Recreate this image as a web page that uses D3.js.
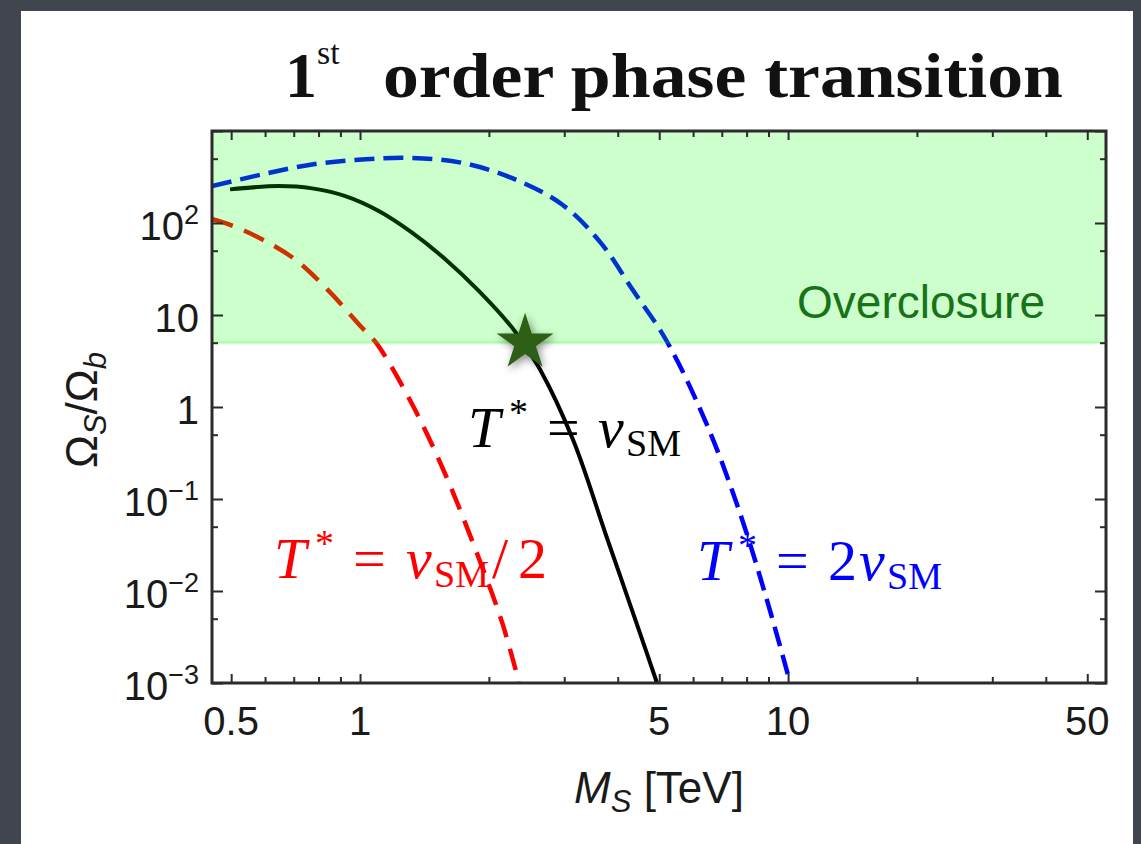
<!DOCTYPE html>
<html>
<head>
<meta charset="utf-8">
<script src="https://cdn.jsdelivr.net/npm/d3@7"></script>
<style>
  html, body { margin: 0; padding: 0; background: #40454f; }
  svg { display: block; }
</style>
</head>
<body>
<svg id="chart" width="1141" height="844"></svg>
<script>
// values: M_S [TeV] vs Omega_S / Omega_b
const massHalf = [0.451, 0.494, 0.59, 0.706, 0.845, 1.01, 1.09, 1.32, 1.58, 1.89, 2.15, 2.35];
const omegaHalf = [110, 96.8, 66.5, 40, 18.3, 7.3, 5.0, 1.1, 0.188, 0.0234, 0.00447, 0.00103];

const massOne = [0.497, 0.646, 0.773, 0.924, 1.106, 1.323, 1.582, 1.894, 2.265, 2.40, 2.63, 3.15, 3.77, 4.51, 4.94];
const omegaOne = [232, 252, 238, 196, 135, 78.5, 40.4, 18.3, 7.31, 5.0, 2.59, 0.432, 0.0384, 0.00346, 0.001];

const massTwo = [0.451, 0.59, 0.772, 1.01, 1.32, 1.73, 2.26, 2.96, 3.64, 4.35, 5.2, 6.45, 7.73, 8.93, 10.1];
const omegaTwo = [252, 337, 433, 490, 510, 451, 309, 160, 62, 18.3, 5.25, 0.656, 0.069, 0.0079, 0.00103];

const starMass = 2.43;
const starOmega = 5;
const overclosureMin = 5;

const xDomain = [0.451, 55.3];
const yDomain = [1e-3, 1e3];
const xMajorTicks = [0.5, 1, 5, 10, 50];
const xMinorTicks = [0.6, 0.7, 0.8, 0.9, 2, 3, 4, 6, 7, 8, 9, 20, 30, 40];
const xTickLabels = ['0.5', '1', '5', '10', '50'];
const yMajorTicks = [1e-3, 1e-2, 1e-1, 1, 10, 100, 1000];
const yMinorTicks = [5e-3, 5e-2, 0.5, 5, 50, 500];
const yLabelValues = [1e-3, 1e-2, 1e-1, 1, 10, 100];
const yLabelBase = ['10', '10', '10', '1', '10', '10'];
const yLabelExp = ['\u22123', '\u22122', '\u22121', '', '', '2'];

const width = 1141, height = 844;
const plot = {left: 212, right: 1106, top: 131, bottom: 683};
const sansFont = "'Liberation Sans', Arial, sans-serif";
const mathFont = "'Liberation Serif', 'DejaVu Serif', serif";

const svg = d3.select('#chart');
const defs = svg.append('defs');
defs.append('clipPath').attr('id', 'plot-clip')
  .append('rect')
    .attr('x', plot.left).attr('y', plot.top)
    .attr('width', plot.right - plot.left)
    .attr('height', plot.bottom - plot.top);
const shadow = defs.append('filter').attr('id', 'star-shadow')
    .attr('x', '-60%').attr('y', '-60%').attr('width', '220%').attr('height', '220%');
shadow.append('feDropShadow')
    .attr('dx', 2).attr('dy', 3)
    .attr('stdDeviation', 4)
    .attr('flood-color', '#000')
    .attr('flood-opacity', 0.45);

// slide background + white card
svg.append('rect').attr('width', width).attr('height', height).attr('fill', '#40454f');
svg.append('rect')
    .attr('x', 21).attr('y', 11)
    .attr('width', 1112).attr('height', height - 11)
    .attr('fill', '#ffffff');

const x = d3.scaleLog().domain(xDomain).range([plot.left, plot.right]);
const y = d3.scaleLog().domain(yDomain).range([plot.bottom, plot.top]);

const line = d3.line()
    .x(d => x(d[0]))
    .y(d => y(d[1]))
    .curve(d3.curveCatmullRom.alpha(0.5));

const curves = [
  {mass: massHalf, omega: omegaHalf, color: '#ff0000', dash: '22,12', w: 4.5},
  {mass: massOne, omega: omegaOne, color: '#000000', dash: null, w: 4},
  {mass: massTwo, omega: omegaTwo, color: '#0000ff', dash: '20,9', w: 4.5}
];

const plotArea = svg.append('g').attr('clip-path', 'url(#plot-clip)');
curves.forEach(c => {
  plotArea.append('path')
      .datum(c.mass.map((m, i) => [m, c.omega[i]]))
      .attr('fill', 'none')
      .attr('stroke', c.color)
      .attr('stroke-width', c.w)
      .attr('stroke-dasharray', c.dash)
      .attr('d', line);
});

// overclosure band sits over the curves (tints them)
plotArea.append('rect')
    .attr('x', plot.left)
    .attr('y', y(yDomain[1]))
    .attr('width', plot.right - plot.left)
    .attr('height', y(overclosureMin) - y(yDomain[1]))
    .attr('fill', '#00ff00')
    .attr('fill-opacity', 0.2);
plotArea.append('line')
    .attr('x1', plot.left).attr('x2', plot.right)
    .attr('y1', y(overclosureMin)).attr('y2', y(overclosureMin))
    .attr('stroke', '#00ff00')
    .attr('stroke-opacity', 0.2)
    .attr('stroke-width', 3);

svg.append('text')
    .attr('x', 1045)
    .attr('y', 318)
    .attr('text-anchor', 'end')
    .attr('font-family', sansFont)
    .attr('font-size', 46)
    .attr('fill', '#187318')
    .text('Overclosure');

// ticks on all four sides, pointing inward
function styleTicks(g) {
  g.select('.domain').remove();
  g.selectAll('line').attr('stroke', '#2b2b2b').attr('stroke-width', 2);
}
function addTicks(axisFn, scale, values, size, transform) {
  svg.append('g')
      .attr('transform', transform)
      .call(axisFn(scale).tickValues(values).tickSize(-size).tickFormat(''))
      .call(styleTicks);
}
addTicks(d3.axisBottom, x, xMajorTicks, 9, `translate(0,${plot.bottom})`);
addTicks(d3.axisBottom, x, xMinorTicks, 6, `translate(0,${plot.bottom})`);
addTicks(d3.axisTop, x, xMajorTicks, 9, `translate(0,${plot.top})`);
addTicks(d3.axisTop, x, xMinorTicks, 6, `translate(0,${plot.top})`);
addTicks(d3.axisLeft, y, yMajorTicks, 11, `translate(${plot.left},0)`);
addTicks(d3.axisLeft, y, yMinorTicks, 6, `translate(${plot.left},0)`);
addTicks(d3.axisRight, y, yMajorTicks, 11, `translate(${plot.right},0)`);
addTicks(d3.axisRight, y, yMinorTicks, 6, `translate(${plot.right},0)`);

svg.append('rect')
    .attr('x', plot.left).attr('y', plot.top)
    .attr('width', plot.right - plot.left)
    .attr('height', plot.bottom - plot.top)
    .attr('fill', 'none')
    .attr('stroke', '#2b2b2b')
    .attr('stroke-width', 3);

// tick labels
svg.append('g').selectAll('text')
  .data(xMajorTicks)
  .join('text')
    .attr('x', d => x(d))
    .attr('y', 735)
    .attr('text-anchor', 'middle')
    .attr('font-family', sansFont)
    .attr('font-size', 40)
    .attr('fill', '#1a1a1a')
    .text((d, i) => xTickLabels[i]);

svg.append('g').selectAll('text')
  .data(yLabelValues)
  .join('text')
    .attr('x', 199)
    .attr('y', d => y(d) + 17)
    .attr('text-anchor', 'end')
    .attr('font-family', sansFont)
    .attr('font-size', 40)
    .attr('fill', '#1a1a1a')
    .each(function(d, i) {
      const t = d3.select(this);
      t.append('tspan').text(yLabelBase[i]);
      if (yLabelExp[i]) {
        t.append('tspan').attr('dy', -16).attr('font-size', 27).text(yLabelExp[i]);
      }
    });

// axis titles
const xTitle = svg.append('text')
    .attr('x', 659)
    .attr('y', 803)
    .attr('text-anchor', 'middle')
    .attr('font-family', sansFont)
    .attr('font-size', 44)
    .attr('fill', '#1a1a1a');
xTitle.append('tspan').attr('font-style', 'italic').text('M');
xTitle.append('tspan').attr('font-style', 'italic').attr('font-size', 31).attr('dy', 9).text('S');
xTitle.append('tspan').attr('dy', -9).text(' [TeV]');

const yTitle = svg.append('text')
    .attr('transform', 'translate(97,410) rotate(-90)')
    .attr('text-anchor', 'middle')
    .attr('font-family', sansFont)
    .attr('font-size', 44)
    .attr('fill', '#1a1a1a');
yTitle.append('tspan').text('\u03A9');
yTitle.append('tspan').attr('font-style', 'italic').attr('font-size', 31).attr('dy', 9).text('S');
yTitle.append('tspan').attr('dy', -9).text('/\u03A9');
yTitle.append('tspan').attr('font-style', 'italic').attr('font-size', 31).attr('dy', 9).text('b');

// star at the overclosure crossing
svg.append('path')
    .attr('d', d3.symbol(d3.symbolStar, 1000)())
    .attr('transform', `translate(${x(starMass)},${y(starOmega)})`)
    .attr('fill', '#2d5f17')
    .attr('filter', 'url(#star-shadow)');

// math labels on the curves; each piece placed at an offset from the label start
function mathLabel(px, py, color, parts) {
  const t = svg.append('text')
      .attr('y', py)
      .attr('font-family', mathFont)
      .attr('font-size', 58)
      .attr('fill', color);
  parts.forEach(p => {
    const s = t.append('tspan')
        .attr('x', px + p.at)
        .attr('y', py + (p.sup ? -22 : p.sub ? 9 : 0))
        .text(p.t);
    if (p.i) s.attr('font-style', 'italic');
    if (p.sup || p.sub) s.attr('font-size', 38);
  });
}
mathLabel(468, 447, '#000000', [
  {t: 'T', i: true, at: 0}, {t: '*', sup: true, at: 41}, {t: '=', at: 79},
  {t: 'v', i: true, at: 130}, {t: 'SM', sub: true, at: 158}
]);
mathLabel(274, 578, '#ff0000', [
  {t: 'T', i: true, at: 0}, {t: '*', sup: true, at: 41}, {t: '=', at: 79},
  {t: 'v', i: true, at: 132}, {t: 'SM', sub: true, at: 160}, {t: '/', at: 218}, {t: '2', at: 244}
]);
mathLabel(697, 580, '#0000ff', [
  {t: 'T', i: true, at: 0}, {t: '*', sup: true, at: 41}, {t: '=', at: 79},
  {t: '2', at: 131}, {t: 'v', i: true, at: 162}, {t: 'SM', sub: true, at: 190}
]);

// title
const title = svg.append('text')
    .attr('x', 285).attr('y', 97)
    .attr('font-family', mathFont)
    .attr('font-weight', 'bold')
    .attr('font-size', 64)
    .attr('fill', '#111');
title.append('tspan').text('1');
title.append('tspan').attr('dy', -33).attr('font-size', 34).attr('font-weight', 'normal').text('st');
svg.append('text')
    .attr('x', 383).attr('y', 97)
    .attr('font-family', mathFont)
    .attr('font-weight', 'bold')
    .attr('font-size', 64)
    .attr('fill', '#111')
    .attr('textLength', 680)
    .attr('lengthAdjust', 'spacingAndGlyphs')
    .text('order phase transition');
</script>
</body>
</html>
